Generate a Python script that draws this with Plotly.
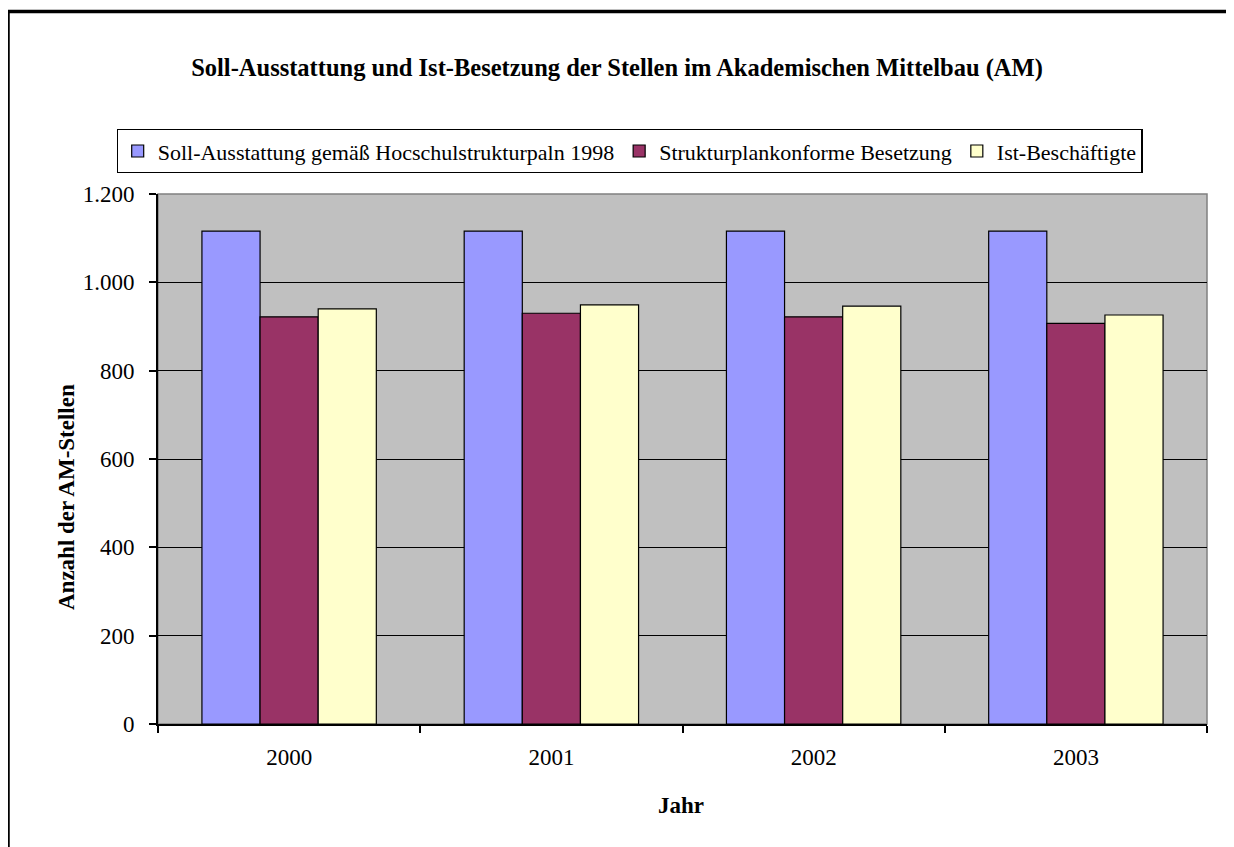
import plotly.graph_objects as go

years = ["2000", "2001", "2002", "2003"]
soll = [1116, 1116, 1116, 1116]
konform = [922, 930, 922, 907]
ist = [940, 949, 946, 926]

series_names = [
    "Soll-Ausstattung gemäß Hocschulstrukturpaln 1998",
    "Strukturplankonforme Besetzung",
    "Ist-Beschäftigte",
]
colors = ["#9999FF", "#993366", "#FFFFCC"]
y_ticks = [0, 200, 400, 600, 800, 1000, 1200]

FONT = "Liberation Serif, Times New Roman, serif"

# page body has an 8px default margin: figure sits at (8, 8) on screen
OFF = 8
W, H = 1234 - OFF, 847 - OFF
PL, PR, PT, PB = 158, 1207, 194, 724  # plot area on screen
PW, PH = PR - PL, PB - PT


def px(x):
    return (x - PL) / PW


def py(y):
    return (PB - y) / PH


fig = go.Figure()
for name, vals, col in zip(series_names, [soll, konform, ist], colors):
    fig.add_trace(go.Bar(
        x=years, y=vals, name=name,
        marker=dict(color=col, line=dict(color="black", width=1.2)),
    ))

fig.update_layout(
    width=W, height=H,
    margin=dict(l=PL - OFF, r=W + OFF - PR, t=PT - OFF, b=H + OFF - PB),
    paper_bgcolor="white",
    plot_bgcolor="#C0C0C0",
    separators=",.",
    font=dict(family=FONT, size=22, color="black"),
    barmode="group",
    bargap=0.335,
    bargroupgap=0,
    showlegend=True,
    legend=dict(
        orientation="h", x=px(629.5), xanchor="center", y=py(129), yanchor="top",
        bordercolor="black", borderwidth=1.2, bgcolor="white",
        font=dict(family=FONT, size=22),
        itemwidth=30, tracegroupgap=0,
    ),
    title=dict(
        text="<b>Soll-Ausstattung und Ist-Besetzung der Stellen im Akademischen Mittelbau (AM)</b>",
        x=px(617), xref="paper", xanchor="center",
        y=1 - (67 - OFF) / H, yref="container", yanchor="middle",
        font=dict(family=FONT, size=24.5),
    ),
    xaxis=dict(
        type="category",
        showline=True, linecolor="black", linewidth=2,
        ticks="outside", ticklen=7, tickcolor="black", tickwidth=2,
        tickson="boundaries",
        showgrid=False,
        tickfont=dict(family=FONT, size=23),
        ticklabelstandoff=11,
    ),
    yaxis=dict(
        range=[0, 1200],
        tickvals=y_ticks,
        tickformat=",d",
        showline=True, linecolor="black", linewidth=2,
        ticks="outside", ticklen=7, tickcolor="black", tickwidth=2,
        showgrid=True, gridcolor="black", gridwidth=1.3,
        tickfont=dict(family=FONT, size=23),
        ticklabelstandoff=10,
        zeroline=False,
    ),
    annotations=[
        dict(text="<b>Anzahl der AM-Stellen</b>", textangle=-90,
             xref="paper", yref="paper", x=px(66), y=py(497),
             xanchor="center", yanchor="middle", showarrow=False,
             font=dict(family=FONT, size=23)),
        dict(text="<b>Jahr</b>",
             xref="paper", yref="paper", x=px(681), y=py(805),
             xanchor="center", yanchor="middle", showarrow=False,
             font=dict(family=FONT, size=23)),
    ],
    shapes=[
        # plot-area frame (grey top/right)
        dict(type="rect", xref="paper", yref="paper", x0=0, y0=0, x1=1, y1=1,
             line=dict(color="#808080", width=1.5), layer="below"),
        # outer chart frame (right and bottom edges fall outside the picture)
        dict(type="rect", xref="paper", yref="paper",
             x0=px(8), x1=px(1260), y0=py(880), y1=py(11.5),
             line=dict(color="black", width=3.5)),
    ],
)

fig.write_html("out.html")
